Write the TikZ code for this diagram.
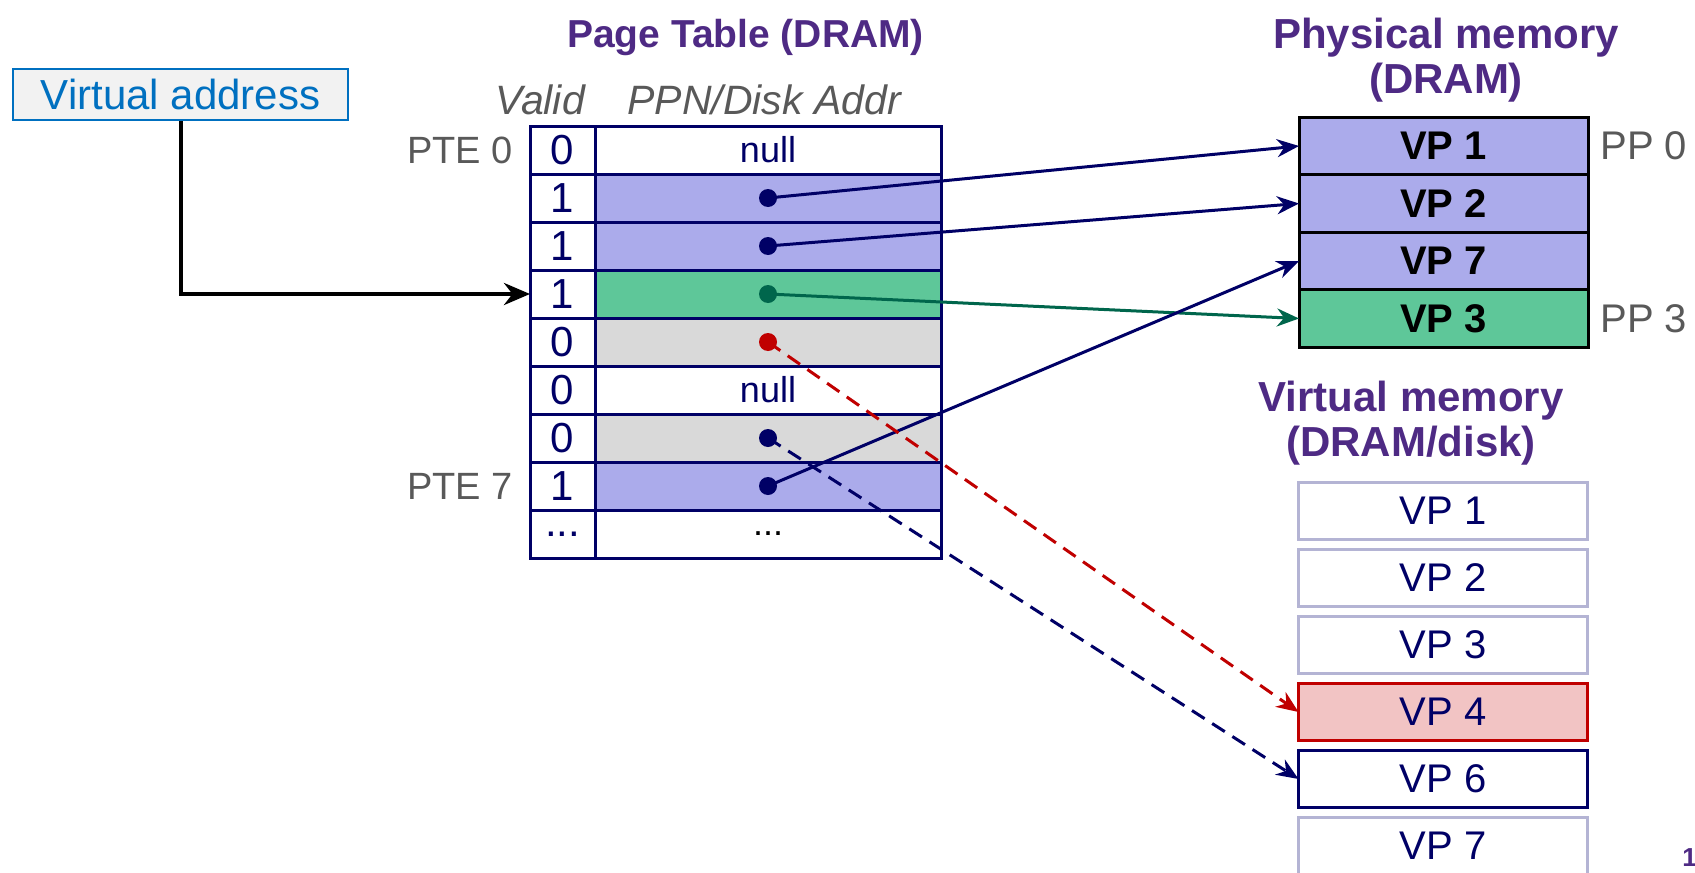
\documentclass[tikz,border=0pt]{standalone}
\usepackage{fontspec}
\setmainfont{Liberation Sans}
\usetikzlibrary{arrows.meta,positioning}

\definecolor{navy}{RGB}{0,0,102}
\definecolor{ptblue}{RGB}{171,171,235}
\definecolor{ptgreen}{RGB}{94,199,153}
\definecolor{dkgreen}{RGB}{0,102,76}
\definecolor{ptgray}{RGB}{217,217,217}
\definecolor{dkred}{RGB}{192,0,0}
\definecolor{ptpink}{RGB}{242,196,196}
\definecolor{lavender}{RGB}{180,180,212}
\definecolor{titlepurple}{RGB}{78,42,132}
\definecolor{labelgray}{RGB}{89,89,89}
\definecolor{vablue}{RGB}{0,112,192}
\definecolor{vafill}{RGB}{242,242,242}

\tikzset{
  cell/.style={draw=navy, line width=1.5pt, inner sep=0pt, outer sep=0pt,
    minimum height=24pt, text=navy},
  validcell/.style={cell, fill=white, minimum width=32.5pt, font=\fontsize{21}{24}\selectfont},
  entrycell/.style={cell, minimum width=173pt, font=\fontsize{18}{22}\selectfont},
  pmcell/.style={draw=black, line width=1.5pt, inner sep=0pt, outer sep=0pt,
    minimum width=144.5pt, minimum height=28.75pt, font=\bfseries\fontsize{20}{24}\selectfont},
  vmcell/.style={line width=1.6pt, inner sep=0pt, outer sep=0pt, text=navy,
    minimum width=144.5pt, minimum height=28.5pt, font=\fontsize{20}{24}\selectfont},
  hdr/.style={text=titlepurple, align=center, font=\bfseries\fontsize{21}{22.5}\selectfont},
  colhdr/.style={text=labelgray, font=\itshape\fontsize{20.5}{24}\selectfont},
  lbl/.style={text=labelgray, inner sep=0pt, font=\fontsize{19}{22}\selectfont},
  ptr/.style={navy, line width=1.5pt, -{Stealth[length=11pt,width=9pt]}},
  dashptr/.style={ptr, dash pattern=on 7.5pt off 4.5pt}
}

\begin{document}
\begin{tikzpicture}[x=0.5pt, y=-0.5pt]
    \useasboundingbox (0,0) rectangle (1695,872);
    % titles
    \node[hdr, font=\bfseries\fontsize{19.5}{22}\selectfont] (pttitle) at (745.5,38) {Page Table (DRAM)};
    \node[hdr] (pmtitle) at (1446,60) {Physical memory\\(DRAM)};
    \node[hdr] (vmtitle) at (1411,423) {Virtual memory\\(DRAM/disk)};
    \node[colhdr] (validhdr) at (540,99.5) {Valid};
    \node[colhdr] (ppnhdr) at (764,99.5) {PPN/Disk Addr};
    % virtual address
    \node[draw=vablue, fill=vafill, line width=1pt, text=vablue, minimum width=167.5pt,
      minimum height=25.5pt, font=\fontsize{21}{24}\selectfont] (va) at (180.5,94.5) {Virtual address};
    % page table rows
    \foreach \v/\fillc/\txt [count=\i from 0] in {0/white/null, 1/ptblue/{}, 1/ptblue/{},
        1/ptgreen/{}, 0/ptgray/{}, 0/white/null, 0/ptgray/{}, 1/ptblue/{}} {
      \node[validcell] (val\i) at (562.5,{150+48*\i}) {\v};
      \node[entrycell, fill=\fillc] (ent\i) at (768,{150+48*\i}) {\txt};
    }
    \node[validcell] (val8) at (562.5,534) {...};
    \node[entrycell, fill=white, text=black] (ent8) at (768,534) {...};
    \node[lbl, left=8.5pt of val0] (pte0) {PTE 0};
    \node[lbl, left=8.5pt of val7] (pte7) {PTE 7};
    % physical memory
    \foreach \name/\fillc [count=\i from 0] in {1/ptblue, 2/ptblue, 7/ptblue, 3/ptgreen}
      \node[pmcell, fill=\fillc] (pm\name) at (1443.5,{146+57.5*\i}) {VP \name};
    \node[lbl, right=6pt of pm1, font=\fontsize{20}{24}\selectfont] (pp0) {PP 0};
    \node[lbl, right=6pt of pm3, font=\fontsize{20}{24}\selectfont] (pp3) {PP 3};
    % virtual memory
    \foreach \name/\linec/\fillc [count=\i from 0] in {1/lavender/white, 2/lavender/white,
        3/lavender/white, 4/dkred/ptpink, 6/navy/white, 7/lavender/white}
      \node[vmcell, draw=\linec, fill=\fillc] (vm\name) at (1443,{511+67*\i}) {VP \name};
    % lookup
    \draw[line width=2pt, -{Stealth[length=13pt,width=11pt]}] (va.south) |- (val3.west);
    % pointers
    \foreach \i/\dotc in {1/navy, 2/navy, 3/dkgreen, 4/dkred, 6/navy, 7/navy}
      \fill[\dotc] (ent\i.center) circle (9);
    \draw[ptr] (ent1.center) -- (pm1.west);
    \draw[ptr] (ent2.center) -- (pm2.west);
    \draw[ptr, dkgreen] (ent3.center) -- (pm3.west);
    \draw[ptr] (ent7.center) -- (pm7.west);
    \draw[dashptr, dkred] (ent4.center) -- (vm4.west);
    \draw[dashptr] (ent6.center) -- (vm6.west);
    % slide number
    \node[text=titlepurple, anchor=west, inner sep=0pt, font=\bfseries\fontsize{13}{15}\selectfont]
      (pagenum) at (1682,858) {1};
\end{tikzpicture}
\end{document}
